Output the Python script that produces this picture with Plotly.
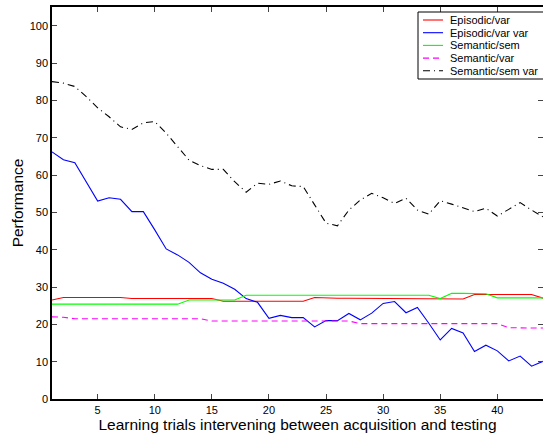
import plotly.graph_objects as go

trials = list(range(1, 45))

episodic_var = [26.5, 27.2, 27.2, 27.2, 27.2, 27.2, 27.2, 26.9, 26.9, 26.9,
                26.9, 26.9, 26.9, 26.9, 26.9, 26.2, 26.2, 26.2, 26.2, 26.2,
                26.2, 26.2, 26.2, 27.2, 27.0, 27.0, 27.0, 27.0, 27.0, 26.8,
                26.8, 26.8, 26.8, 26.8, 26.8, 26.8, 26.8, 28.0, 28.0, 28.0,
                28.0, 28.0, 28.0, 27.0]

episodic_var_var = [66.2, 64.1, 63.3, 58.2, 53.0, 53.9, 53.5, 50.2, 50.2, 45.3,
                    40.2, 38.6, 36.6, 33.8, 32.1, 31.0, 29.4, 26.9, 25.9, 21.6,
                    22.4, 21.8, 21.8, 19.3, 21.0, 21.0, 22.9, 21.2, 23.0, 25.6,
                    26.1, 23.1, 24.5, 20.3, 15.8, 18.9, 17.7, 12.7, 14.4, 12.9,
                    10.2, 11.5, 8.8, 10.1]

semantic_sem = [25.4, 25.4, 25.4, 25.4, 25.4, 25.4, 25.4, 25.4, 25.4, 25.4,
                25.4, 25.4, 26.5, 26.5, 26.5, 26.5, 26.5, 27.8, 27.8, 27.8,
                27.8, 27.8, 27.8, 27.8, 27.8, 27.8, 27.8, 27.8, 27.8, 27.8,
                27.8, 27.8, 27.8, 27.8, 26.9, 28.3, 28.3, 28.2, 28.2, 27.1,
                27.1, 27.1, 27.1, 27.1]

semantic_var = [22.0, 21.9, 21.5, 21.5, 21.5, 21.5, 21.5, 21.5, 21.5, 21.5,
                21.5, 21.5, 21.5, 21.5, 20.9, 20.9, 20.9, 20.9, 20.9, 20.9,
                20.9, 20.9, 20.9, 20.9, 20.9, 20.9, 20.9, 20.2, 20.2, 20.2,
                20.2, 20.2, 20.2, 20.2, 20.2, 20.2, 20.2, 20.2, 20.2, 20.2,
                19.1, 19.0, 19.0, 19.0]

semantic_sem_var = [85.0, 84.6, 83.7, 81.0, 78.0, 75.6, 72.9, 72.2, 74.0, 74.3,
                    71.2, 67.6, 64.0, 62.5, 61.5, 61.5, 58.2, 55.4, 57.8, 57.5,
                    58.4, 57.1, 56.9, 52.0, 47.1, 46.4, 50.6, 53.3, 55.1, 53.9,
                    52.4, 53.8, 50.6, 49.5, 53.1, 52.2, 51.1, 50.2, 51.1, 49.0,
                    50.8, 52.6, 50.6, 48.8]

x_ticks = [5, 10, 15, 20, 25, 30, 35, 40]
y_ticks = [0, 10, 20, 30, 40, 50, 60, 70, 80, 90, 100]

series_names = ["Episodic/var", "Episodic/var var", "Semantic/sem",
                "Semantic/var", "Semantic/sem var"]
series_values = [episodic_var, episodic_var_var, semantic_sem,
                 semantic_var, semantic_sem_var]
series_colors = ["#ff0000", "#0000ff", "#00ff00", "#ff00ff", "#000000"]
series_dash = ["solid", "solid", "solid", "6px,4px", "7px,4px,1px,4px"]

W, H = 543, 434
ML, MR, MT, MB = 52, 0, 7, 35
PW, PH = W - ML - MR, H - MT - MB


def px_x(p):
    return (p - ML) / PW


def px_y(p):
    return (H - MB - p) / PH


fig = go.Figure()
for name, vals, color, dash in zip(series_names, series_values,
                                   series_colors, series_dash):
    fig.add_trace(go.Scatter(x=trials, y=vals, mode="lines", name=name,
                             showlegend=False,
                             line=dict(color=color, width=1.1, dash=dash)))

# Manual compact legend (MATLAB style)
shapes = [dict(type="rect", xref="paper", yref="paper", layer="above",
               x0=px_x(418), x1=px_x(545), y0=px_y(79), y1=px_y(12),
               fillcolor="white", line=dict(color="black", width=1))]
annotations = []
for i, (name, color, dash) in enumerate(zip(series_names, series_colors,
                                            series_dash)):
    yc = 20 + i * 12.7
    shapes.append(dict(type="line", xref="paper", yref="paper", layer="above",
                       x0=px_x(423), x1=px_x(443), y0=px_y(yc), y1=px_y(yc),
                       line=dict(color=color, width=1.1, dash=dash)))
    annotations.append(dict(xref="paper", yref="paper", x=px_x(448),
                            y=px_y(yc), text=name, showarrow=False,
                            xanchor="left", yanchor="middle",
                            font=dict(size=11, color="black")))

font_family = "Liberation Sans, Arial, Helvetica, sans-serif"
fig.update_layout(
    width=W, height=H,
    margin=dict(l=ML, r=MR, t=MT, b=MB, autoexpand=False),
    paper_bgcolor="white", plot_bgcolor="white",
    font=dict(family=font_family, size=11, color="black"),
    showlegend=False,
    shapes=shapes, annotations=annotations,
    xaxis=dict(range=[1, 44], tickvals=x_ticks, ticks="inside", ticklen=5,
               showline=True, linecolor="black", linewidth=1.5, mirror="ticks",
               showgrid=False, zeroline=False,
               title=dict(text="Learning trials intervening between acquisition and testing",
                          font=dict(size=15.5), standoff=1),
               tickfont=dict(size=11)),
    yaxis=dict(range=[0, 105], tickvals=y_ticks, ticks="inside", ticklen=5,
               showline=True, linecolor="black", linewidth=1.5, mirror="ticks",
               showgrid=False, zeroline=False,
               title=dict(text="Performance", font=dict(size=15.5), standoff=2),
               tickfont=dict(size=11)),
)

fig.write_html("out.html", config={"displayModeBar": False},
               post_script="document.body.style.margin='0';")
